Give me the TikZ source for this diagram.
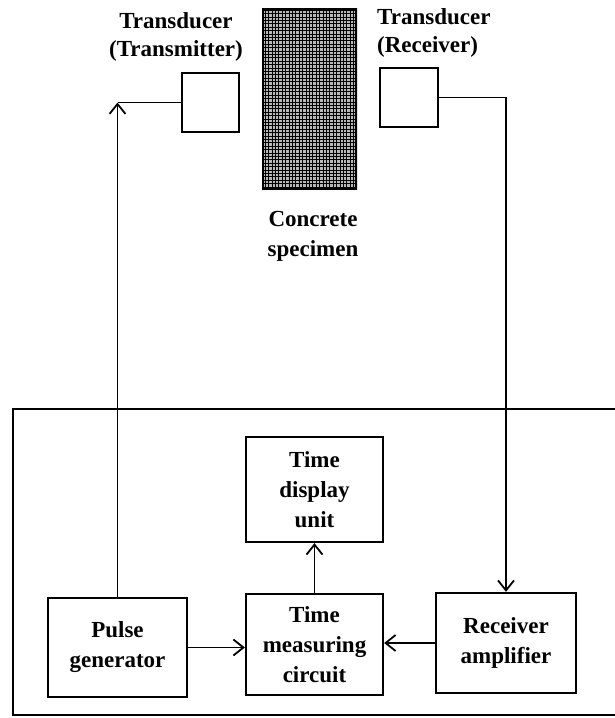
\documentclass[tikz,border=0pt]{standalone}
\usepackage{fontspec}
\setmainfont{Liberation Serif}
\usetikzlibrary{arrows.meta}
\begin{document}
\begin{tikzpicture}[x=1pt,y=-1pt,
  blk/.style={draw, line width=2.3pt, rectangle, align=center, inner sep=0pt,
    font=\bfseries\fontsize{23}{30}\selectfont},
  lbl/.style={align=center, inner sep=0pt, font=\bfseries\fontsize{23}{28}\selectfont},
  conn/.style={line width=1.8pt},
  arr/.style={line width=1.8pt, -{Straight Barb[length=10pt,width=16pt,line width=1.8pt]}}]
\useasboundingbox (0,0) rectangle (614,718);
% outer frame
\draw[line width=2.3pt] (13,409) rectangle (620,715);
% specimen
\node[draw, line width=2.3pt, minimum width=93pt, minimum height=180pt, inner sep=0pt,
  fill=gray!55] (spec) at (309.5,99) {};
\begin{scope}
\clip (spec.south west) rectangle (spec.north east);
\draw[black, line width=1pt, step=3.4pt] (spec.south west) grid (spec.north east);
\end{scope}
\node[draw, line width=2.3pt, minimum width=93pt, minimum height=180pt, inner sep=0pt] at (spec) {};
% transducers
\node[blk, minimum width=57pt, minimum height=59pt] (tx) at (210.5,102.5) {};
\node[blk, minimum width=58pt, minimum height=59pt] (rx) at (409,97.5) {};
% labels
\node[lbl] (txl) at (176,37) {Transducer\\(Transmitter)};
\node[lbl, align=left, anchor=west] (rxl) at (377,33) {Transducer\\(Receiver)};
\node[lbl, font=\bfseries\fontsize{23}{30}\selectfont] (specl) at (313,236) {Concrete\\specimen};
% blocks
\node[blk, minimum width=139pt, minimum height=99pt] (pulse) at (117.5,647.5) {Pulse\\generator};
\node[blk, minimum width=137pt, minimum height=101pt] (meas) at (314.5,644.5) {Time\\measuring\\circuit};
\node[blk, minimum width=137pt, minimum height=105pt] (disp) at (314.5,489.5) {Time\\display\\unit};
\node[blk, minimum width=140pt, minimum height=100pt] (ramp) at (506,643) {Receiver\\amplifier};
% connectors
\coordinate (c1) at (pulse.north |- tx.west);
\draw[arr] (pulse.north) -- (c1);
\draw[conn] (c1) -- (tx.west);
\draw[arr] (rx.east) -| (ramp.north);
\draw[arr] (pulse.east) -- (pulse.east -| meas.west);
\draw[arr] (ramp.west) -- (ramp.west -| meas.east);
\draw[arr] (meas.north) -- (disp.south);
\end{tikzpicture}
\end{document}
